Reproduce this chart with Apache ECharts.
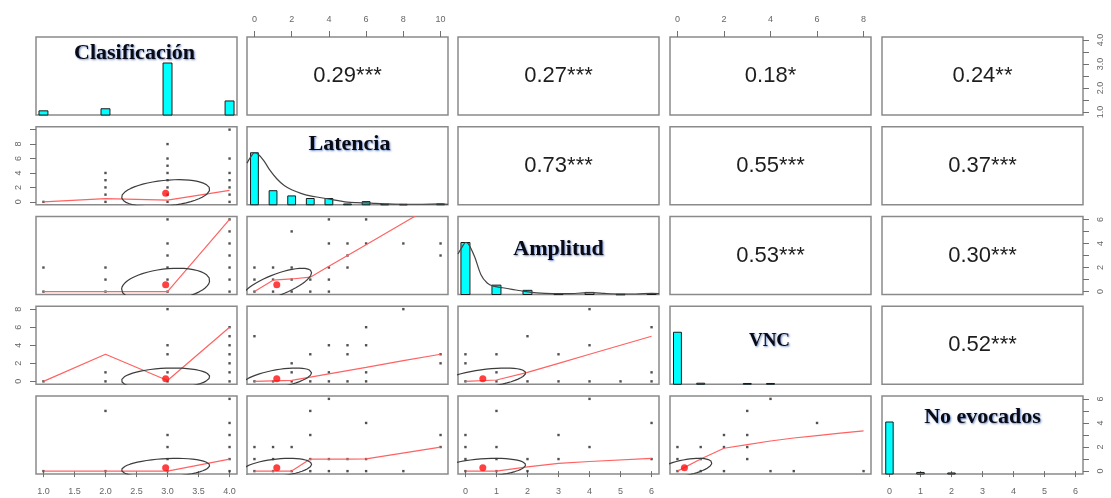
<!DOCTYPE html>
<html><head><meta charset="utf-8">
<script src="https://cdn.jsdelivr.net/npm/echarts@6/dist/echarts.min.js"></script>
<style>html,body{margin:0;padding:0;background:#fff}#c{width:1111px;height:498px}</style>
</head><body><div id="c"></div>
<script>
// ---------- DATA ----------
const varNames = ['Clasificación', 'Latencia', 'Amplitud', 'VNC', 'No evocados'];
const varMin = [1, 0, 0, 0, 0];
const varMax = [4, 10, 6, 8, 6];
const varMeans = [2.97, 1.2, 0.56, 0.3, 0.28];
const varSDs = [0.71, 1.87, 1.38, 1.18, 0.78];

// upper panels: [row, col, r, stars]
const corrPairs = [
  [0, 1, 0.29, '***'], [0, 2, 0.27, '***'], [0, 3, 0.18, '*'], [0, 4, 0.24, '**'],
  [1, 2, 0.73, '***'], [1, 3, 0.55, '***'], [1, 4, 0.37, '***'],
  [2, 3, 0.53, '***'], [2, 4, 0.30, '***'],
  [3, 4, 0.52, '***']
];

// tick values / labels
const ticksClas = [1, 1.5, 2, 2.5, 3, 3.5, 4];
const ticksLat = [0, 2, 4, 6, 8, 10];
const ticksAmp = [0, 1, 2, 3, 4, 5, 6];
const ticksVNC = [0, 2, 4, 6, 8];
const ticksNoEv = [0, 1, 2, 3, 4, 5, 6];
const labelsClasRight = [1, 2, 3, 4];
const labelsLatLeft = [0, 2, 4, 6, 8];
const labelsAmpRight = [0, 2, 4, 6];
const labelsVNCLeft = [0, 2, 4, 6, 8];
const labelsNoEvRight = [0, 2, 4, 6];

// histograms (value, height relative to tallest bar)
const histClas = [[1, 0.08], [2, 0.12], [3, 1.0], [4, 0.27]];
const histLat = [[0, 1.0], [1, 0.27], [2, 0.17], [3, 0.12], [4, 0.12], [5, 0.015], [6, 0.06], [7, 0.01], [8, 0.008], [10, 0.015]];
const histAmp = [[0, 1.0], [1, 0.18], [2, 0.08], [3, 0.01], [4, 0.04], [5, 0.005], [6, 0.015]];
const histVNC = [[0, 1.0], [1, 0.02], [3, 0.015], [4, 0.015]];
const histNoEv = [[0, 1.0], [1, 0.03], [2, 0.02]];

// density curves (relative)
const densLat = [[-0.4, 0.8], [-0.2, 0.92], [0, 1.0], [0.2, 0.97], [0.5, 0.85], [0.8, 0.68], [1.2, 0.5], [1.6, 0.37], [2.0, 0.29], [2.5, 0.22], [3.0, 0.17], [3.5, 0.14], [4.0, 0.11], [4.5, 0.08], [5.0, 0.05], [5.5, 0.04], [6.0, 0.035], [6.5, 0.025], [7.0, 0.018], [8.0, 0.01], [9.0, 0.01], [10.0, 0.015], [10.4, 0.01]];
const densAmp = [[-0.24, 0.78], [-0.1, 0.92], [0, 1.0], [0.1, 0.97], [0.3, 0.72], [0.5, 0.38], [0.7, 0.22], [0.9, 0.16], [1.2, 0.13], [1.5, 0.1], [1.9, 0.06], [2.3, 0.03], [2.8, 0.015], [3.3, 0.015], [3.8, 0.03], [4.1, 0.035], [4.5, 0.02], [5.0, 0.01], [5.5, 0.01], [6.0, 0.02], [6.24, 0.015]];

// scatter points (x = column variable, y = row variable)
const pts_r1c0 = [[1,0],[2,0],[2,1],[2,2],[2,3],[2,4],[3,0],[3,1],[3,2],[3,3],[3,4],[3,5],[3,6],[3,8],[4,0],[4,1],[4,2],[4,3],[4,4],[4,6],[4,10]];
const pts_r2c0 = [[1,0],[1,2],[2,0],[2,1],[2,2],[3,0],[3,1],[3,2],[3,3],[3,4],[3,6],[4,0],[4,1],[4,2],[4,3],[4,4],[4,5],[4,6]];
const pts_r2c1 = [[0,0],[1,0],[2,0],[3,0],[4,0],[0,1],[1,1],[2,1],[3,1],[4,1],[0,2],[1,2],[2,2],[4,2],[5,2],[5,3],[10,3],[4,4],[5,4],[6,4],[8,4],[10,4],[2,5],[4,6],[6,6]];
const pts_r3c0 = [[1,0],[2,0],[2,1],[3,0],[3,1],[3,3],[3,4],[3,8],[4,0],[4,1],[4,2],[4,3],[4,4],[4,5],[4,6]];
const pts_r3c1 = [[0,0],[1,0],[2,0],[3,0],[4,0],[5,0],[6,0],[2,1],[4,1],[6,1],[2,2],[10,2],[3,3],[5,3],[10,3],[4,4],[5,4],[6,4],[0,5],[6,6],[8,8]];
const pts_r3c2 = [[0,0],[1,0],[2,0],[3,0],[4,0],[5,0],[6,0],[1,1],[6,1],[0,2],[0,3],[1,3],[3,3],[4,4],[2,5],[6,6],[4,8]];
const pts_r4c0 = [[1,0],[2,0],[2,5],[3,0],[3,1],[3,2],[3,3],[4,0],[4,1],[4,2],[4,3],[4,4],[4,6]];
const pts_r4c1 = [[0,0],[1,0],[2,0],[3,0],[4,0],[5,0],[6,0],[8,0],[0,1],[1,1],[3,1],[4,1],[5,1],[6,1],[0,2],[1,2],[2,2],[10,2],[3,3],[10,3],[6,4],[3,5],[4,6]];
const pts_r4c2 = [[0,0],[1,0],[2,0],[0,1],[1,1],[2,1],[3,1],[6,1],[0,2],[1,2],[4,2],[0,3],[3,3],[6,4],[1,5],[4,6]];
const pts_r4c3 = [[0,0],[1,0],[2,0],[4,0],[5,0],[8,0],[0,1],[1,1],[3,1],[0,2],[1,2],[2,2],[3,2],[2,3],[3,3],[6,4],[3,5],[4,6]];

// loess smooths
const loess_r1c0 = [[1,0],[2,0.45],[3,0.25],[4,1.6]];
const loess_r2c0 = [[1,0],[2,0],[3,0],[4,6]];
const loess_r2c1 = [[0,0],[1,0.95],[2,1.05],[3,1.2],[4,2.1],[5,3.0],[6,3.9],[8,5.7],[10,7.5]];
const loess_r3c0 = [[1,0],[2,3],[3,0.1],[4,6]];
const loess_r3c1 = [[0,0],[2,0.1],[4,0.83],[6,1.55],[8,2.3],[10,3.0]];
const loess_r3c2 = [[0,0],[1,0.15],[2,1.0],[3,2.0],[4,3.0],[5,4.0],[6,5.0]];
const loess_r4c0 = [[1,0],[2,0],[3,0],[4,1.0]];
const loess_r4c1 = [[0,0],[2,0],[3,1],[4,1],[5,1],[6,1.02],[10,2]];
const loess_r4c2 = [[0,0],[1,0],[2,0.35],[3,0.65],[4,0.8],[6,1.05]];
const loess_r4c3 = [[0,0],[1,1],[2,1.9],[3,2.2],[4,2.5],[5,2.75],[6,2.95],[7,3.15],[8,3.35]];

// ---------- LAYOUT / STYLE ----------
const colLeft = [36, 247, 458, 670, 882];
const rowTop = [37, 126.75, 216.5, 306.25, 396];
const W = 201, H = 78;
const nameDX = [-2, 2, 0, -1, 0];
const nameDY = [16, 18, 33, 35, 21];
const nameSize = [22, 22, 22, 19, 22];
const barHalf = [0.072, 0.21, 0.145, 0.17, 0.12];

const lowerPanels = [
  [1,0,pts_r1c0,loess_r1c0],[2,0,pts_r2c0,loess_r2c0],[2,1,pts_r2c1,loess_r2c1],
  [3,0,pts_r3c0,loess_r3c0],[3,1,pts_r3c1,loess_r3c1],[3,2,pts_r3c2,loess_r3c2],
  [4,0,pts_r4c0,loess_r4c0],[4,1,pts_r4c1,loess_r4c1],[4,2,pts_r4c2,loess_r4c2],[4,3,pts_r4c3,loess_r4c3]
];
const hists = [histClas, histLat, histAmp, histVNC, histNoEv];
const dens = [null, densLat, densAmp, null, null];

const axisSpecs = [
  {r:4,c:0,axis:'x',pos:'bottom',ticks:ticksClas,labels:ticksClas,dec:1},
  {r:0,c:1,axis:'x',pos:'top',ticks:ticksLat,labels:ticksLat},
  {r:4,c:2,axis:'x',pos:'bottom',ticks:ticksAmp,labels:ticksAmp},
  {r:0,c:3,axis:'x',pos:'top',ticks:ticksVNC,labels:ticksVNC},
  {r:4,c:4,axis:'x',pos:'bottom',ticks:ticksNoEv,labels:ticksNoEv},
  {r:0,c:4,axis:'y',pos:'right',ticks:ticksClas,labels:labelsClasRight,dec:1},
  {r:1,c:0,axis:'y',pos:'left',ticks:ticksLat,labels:labelsLatLeft},
  {r:2,c:4,axis:'y',pos:'right',ticks:ticksAmp,labels:labelsAmpRight},
  {r:3,c:0,axis:'y',pos:'left',ticks:ticksVNC,labels:labelsVNCLeft},
  {r:4,c:4,axis:'y',pos:'right',ticks:ticksNoEv,labels:labelsNoEvRight}
];

function ext(i){ const d=(varMax[i]-varMin[i])*0.04; return [varMin[i]-d, varMax[i]+d]; }
function findSpec(r,c,axis){ return axisSpecs.find(s=>s.r===r&&s.c===c&&s.axis===axis); }
function makeAxis(k, lo, hi, spec, axis){
  const a = {gridIndex:k, type:'value', min:lo, max:hi, splitLine:{show:false}, axisLine:{show:false}};
  if(!spec){ a.show=false; return a; }
  const right = spec.pos==='right';
  a.position = right ? 'left' : spec.pos;
  if(right) a.offset = -W;
  a.axisTick = {show:true, customValues:spec.ticks, length:6, inside:right, lineStyle:{color:'#707070', width:1}};
  a.axisLabel = {show:true, customValues:spec.labels, fontSize:9, color:'#666', fontFamily:'Liberation Sans',
    inside:right,
    margin: axis==='y'?13:13, rotate: axis==='y'?90:0,
    formatter: v => spec.dec ? Number(v).toFixed(1) : String(v)};
  return a;
}

const grids=[], xAxes=[], yAxes=[], series=[], graphics=[];
for(let r=0;r<5;r++) for(let c=0;c<5;c++){
  const k=r*5+c;
  grids.push({left:colLeft[c], top:rowTop[r], width:W, height:H, show:true,
    borderColor:'#8a8a8a', borderWidth:1.5, backgroundColor:'rgba(0,0,0,0)'});
  const xr=ext(c), yr=ext(r);
  xAxes.push(makeAxis(k, xr[0], xr[1], findSpec(r,c,'x'), 'x'));
  yAxes.push(makeAxis(k, yr[0], yr[1], findSpec(r,c,'y'), 'y'));
}
// extra hidden y axes for histograms on diagonal
for(let d=0; d<5; d++){
  yAxes.push({gridIndex:d*5+d, type:'value', min:0, max:1.5, show:false, position:'right', splitLine:{show:false}});
}

function corrOf(a,b){ const p=corrPairs.find(q=>(q[0]===a&&q[1]===b)||(q[0]===b&&q[1]===a)); return p?p[2]:0; }

// lower panels
lowerPanels.forEach(([r,c,pts,lo])=>{
  const k=r*5+c;
  series.push({type:'scatter', xAxisIndex:k, yAxisIndex:k, data:pts, symbol:'rect', symbolSize:2.4,
    itemStyle:{color:'#262626'}, silent:true, z:2});
  series.push({type:'line', xAxisIndex:k, yAxisIndex:k, data:lo, showSymbol:false, symbol:'none', clip:true,
    lineStyle:{color:'#ff6262', width:1.2}, silent:true, z:3});
  // psych-style correlation ellipse at mean +/- 1 sd
  const rho = corrOf(r,c), th = (rho>=0?1:-1)/Math.SQRT2;
  const a1=Math.sqrt(1+rho), a2=Math.sqrt(1-rho), seg=51, el=[];
  for(let i=0;i<=seg;i++){
    const ang=i*2*Math.PI/seg, u=Math.cos(ang)*a1, v=Math.sin(ang)*a2;
    el.push([varMeans[c] + varSDs[c]*(u*th - v*th), varMeans[r] + varSDs[r]*(u*th + v*th)]);
  }
  series.push({type:'line', xAxisIndex:k, yAxisIndex:k, data:el, showSymbol:false, symbol:'none', clip:true,
    lineStyle:{color:'#3c3c3c', width:1.2}, silent:true, z:3});
  series.push({type:'scatter', xAxisIndex:k, yAxisIndex:k, data:[[varMeans[c], varMeans[r]]],
    symbolSize:7, itemStyle:{color:'#ff1010'}, silent:true, z:4});
});

// diagonal histograms + densities + names
for(let d=0; d<5; d++){
  const k=d*5+d, hw=barHalf[d];
  series.push({type:'custom', xAxisIndex:k, yAxisIndex:25+d, data:hists[d], silent:true, z:2,
    encode:{x:0,y:1},
    renderItem:(params, api)=>{
      const x=api.value(0), h=api.value(1);
      const p0=api.coord([x-hw,0]), p1=api.coord([x+hw,h]);
      return {type:'rect', shape:{x:p0[0], y:p1[1], width:p1[0]-p0[0], height:Math.max(p0[1]-p1[1],0.6)},
        style:{fill:'#00ffff', stroke:'#1a1a1a', lineWidth:1}};
    }});
  if(dens[d]){
    series.push({type:'line', xAxisIndex:k, yAxisIndex:25+d, data:dens[d], showSymbol:false, symbol:'none',
      smooth:0.3, clip:true, lineStyle:{color:'#444', width:1.2}, silent:true, z:3});
  }
  graphics.push({type:'text', x: colLeft[d]+W/2+nameDX[d], y: rowTop[d]+nameDY[d], z:10,
    style:{text:varNames[d], font:'bold '+nameSize[d]+'px "Liberation Serif"', fill:'#0a0a14',
      align:'center', verticalAlign:'middle',
      textShadowColor:'rgba(70,110,190,0.8)', textShadowBlur:2, textShadowOffsetX:1, textShadowOffsetY:1}});
}

// correlation text
corrPairs.forEach(([r,c,v,st])=>{
  graphics.push({type:'text', x: colLeft[c]+W/2, y: rowTop[r]+H/2, z:10,
    style:{text: v.toFixed(2)+st, font:'22px "Liberation Sans"', fill:'#1e1e1e', align:'center', verticalAlign:'middle'}});
});

const chart = echarts.init(document.getElementById('c'), null, {renderer:'canvas'});
chart.setOption({
  animation:false,
  backgroundColor:'#ffffff',
  grid:grids, xAxis:xAxes, yAxis:yAxes, series:series, graphic:graphics
});
</script>
</body></html>
